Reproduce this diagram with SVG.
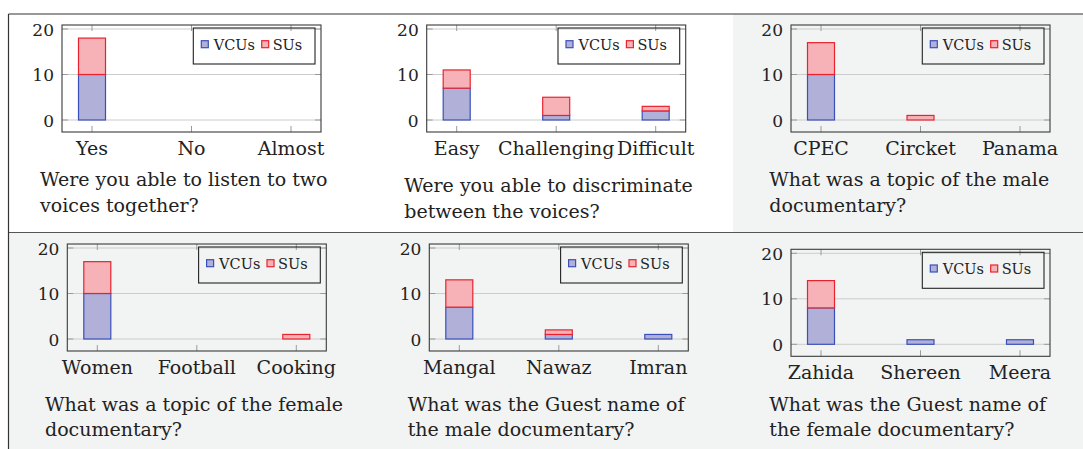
<svg xmlns="http://www.w3.org/2000/svg" width="1083" height="449" viewBox="0 0 1083 449">
<style>
text{font-family:"DejaVu Serif","Liberation Serif",serif;fill:#222}
.q{font-size:19px}
.cat{font-size:19px;text-anchor:middle}
.yl{font-size:17px;text-anchor:end}
.lg{font-size:14.5px}
.frame{fill:none;stroke:#3a3a3a;stroke-width:1.1}
.grid{stroke:#cccccc;stroke-width:1}
.tick{stroke:#9a9a9a;stroke-width:1}
.leg{fill:none;stroke:#222;stroke-width:1.1}
.v{fill:#b0b0d8;stroke:#3a50b8;stroke-width:1.2}
.s{fill:#f7b2b7;stroke:#e8232f;stroke-width:1.2}
.rule{stroke:#333;stroke-width:1.2}
</style>
<defs>
<g id="axes">
<line class="grid" x1="0" y1="4" x2="259" y2="4"/>
<line class="grid" x1="0" y1="49.5" x2="259" y2="49.5"/>
<line class="grid" x1="0" y1="95" x2="259" y2="95"/>
<path class="tick" d="M0 4h6M0 49.5h6M0 95h6M259 4h-6M259 49.5h-6M259 95h-6M30 0v6M129.5 0v6M229 0v6M30 107v-6M129.5 107v-6M229 107v-6"/>
<rect class="frame" x="0" y="0" width="259" height="107"/>
<text class="yl" x="-8" y="10.5">20</text>
<text class="yl" x="-8" y="56">10</text>
<text class="yl" x="-8" y="101.5">0</text>
<rect class="leg" x="131.3" y="3" width="121.7" height="36"/>
<rect class="v" x="139.3" y="15.7" width="7" height="7"/>
<text class="lg" x="151.8" y="25">VCUs</text>
<rect class="s" x="199.7" y="15.7" width="7" height="7"/>
<text class="lg" x="210.7" y="25">SUs</text>
</g>
</defs>
<rect x="733" y="14" width="350" height="218" fill="#f2f3f3"/>
<rect x="9" y="232" width="1074" height="217" fill="#f2f3f3"/>
<g id="table-rules">
<line class="rule" x1="8.5" y1="14" x2="1083" y2="14"/>
<line class="rule" x1="8.5" y1="232.5" x2="1083" y2="232.5" style="stroke:#555"/>
<line class="rule" x1="8.5" y1="14" x2="8.5" y2="449"/>
</g>
<g id="chart1" transform="translate(62,25)">
<use href="#axes"/>
<rect class="v" x="16.5" y="49.5" width="27" height="45.5"/>
<rect class="s" x="16.5" y="13.1" width="27" height="36.4"/>
<text class="cat" x="30" y="130">Yes</text>
<text class="cat" x="129.5" y="130">No</text>
<text class="cat" x="229" y="130">Almost</text>
</g>
<g id="q1"><text class="q" x="40" y="186">Were you able to listen to two</text><text class="q" x="40" y="211.5">voices together?</text></g>
<g id="chart2" transform="translate(426.7,25)">
<use href="#axes"/>
<rect class="v" x="16.5" y="63.15" width="27" height="31.85"/>
<rect class="s" x="16.5" y="44.95" width="27" height="18.2"/>
<rect class="v" x="116" y="90.45" width="27" height="4.55"/>
<rect class="s" x="116" y="72.25" width="27" height="18.2"/>
<rect class="v" x="215.5" y="85.9" width="27" height="9.1"/>
<rect class="s" x="215.5" y="81.35" width="27" height="4.55"/>
<text class="cat" x="30" y="130">Easy</text>
<text class="cat" x="129.5" y="130">Challenging</text>
<text class="cat" x="229" y="130">Difficult</text>
</g>
<g id="q2"><text class="q" x="404.3" y="192">Were you able to discriminate</text><text class="q" x="404.3" y="217.5">between the voices?</text></g>
<g id="chart3" transform="translate(791,25)">
<use href="#axes"/>
<rect class="v" x="16.5" y="49.5" width="27" height="45.5"/>
<rect class="s" x="16.5" y="17.65" width="27" height="31.85"/>
<rect class="s" x="116" y="90.45" width="27" height="4.55"/>
<text class="cat" x="30" y="130">CPEC</text>
<text class="cat" x="129.5" y="130">Circket</text>
<text class="cat" x="229" y="130">Panama</text>
</g>
<g id="q3"><text class="q" x="769.3" y="186">What was a topic of the male</text><text class="q" x="769.3" y="211.5">documentary?</text></g>
<g id="chart4" transform="translate(67.3,244)">
<use href="#axes"/>
<rect class="v" x="16.5" y="49.5" width="27" height="45.5"/>
<rect class="s" x="16.5" y="17.65" width="27" height="31.85"/>
<rect class="s" x="215.5" y="90.45" width="27" height="4.55"/>
<text class="cat" x="30" y="130">Women</text>
<text class="cat" x="129.5" y="130">Football</text>
<text class="cat" x="229" y="130">Cooking</text>
</g>
<g id="q4"><text class="q" x="45" y="410.5">What was a topic of the female</text><text class="q" x="45" y="435.5">documentary?</text></g>
<g id="chart5" transform="translate(429.3,244)">
<use href="#axes"/>
<rect class="v" x="16.5" y="63.15" width="27" height="31.85"/>
<rect class="s" x="16.5" y="35.85" width="27" height="27.3"/>
<rect class="v" x="116" y="90.45" width="27" height="4.55"/>
<rect class="s" x="116" y="85.9" width="27" height="4.55"/>
<rect class="v" x="215.5" y="90.45" width="27" height="4.55"/>
<text class="cat" x="30" y="130">Mangal</text>
<text class="cat" x="129.5" y="130">Nawaz</text>
<text class="cat" x="229" y="130">Imran</text>
</g>
<g id="q5"><text class="q" x="407.7" y="410.5">What was the Guest name of</text><text class="q" x="407.7" y="435.5">the male documentary?</text></g>
<g id="chart6" transform="translate(791,249.3)">
<use href="#axes"/>
<rect class="v" x="16.5" y="58.6" width="27" height="36.4"/>
<rect class="s" x="16.5" y="31.3" width="27" height="27.3"/>
<rect class="v" x="116" y="90.45" width="27" height="4.55"/>
<rect class="v" x="215.5" y="90.45" width="27" height="4.55"/>
<text class="cat" x="30" y="130">Zahida</text>
<text class="cat" x="129.5" y="130">Shereen</text>
<text class="cat" x="229" y="130">Meera</text>
</g>
<g id="q6"><text class="q" x="769.3" y="410.5">What was the Guest name of</text><text class="q" x="769.3" y="435.5">the female documentary?</text></g>
</svg>
